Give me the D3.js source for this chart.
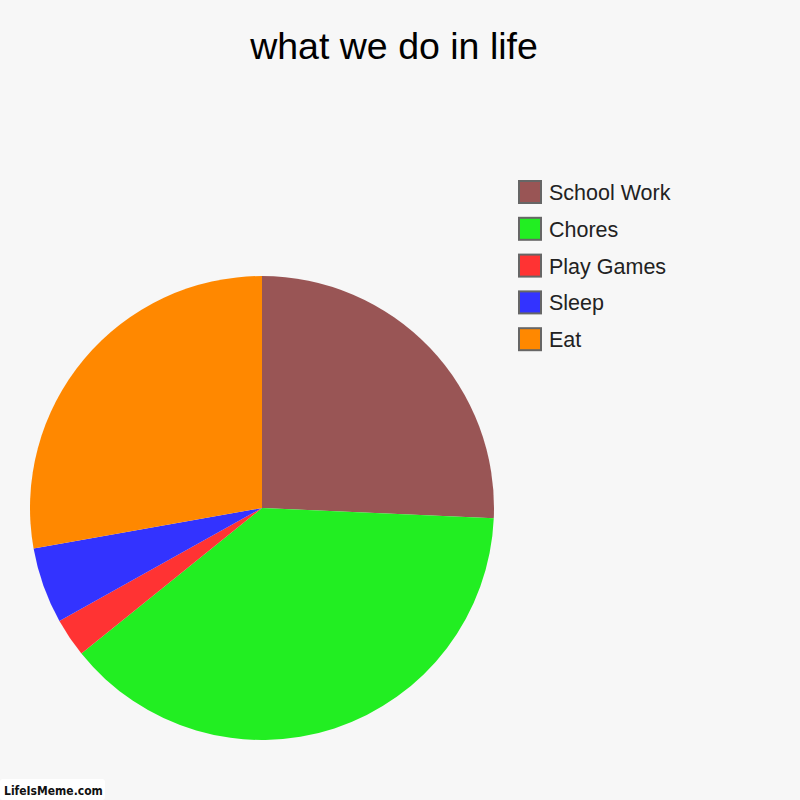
<!DOCTYPE html>
<html>
<head>
<meta charset="utf-8">
<script src="https://cdn.jsdelivr.net/npm/d3@7"></script>
<style>
  html, body { margin: 0; padding: 0; background: #f7f7f7; }
  svg { display: block; font-family: "Liberation Sans", Arial, sans-serif; }
</style>
</head>
<body>
<svg id="chart" width="800" height="800"></svg>
<script>
// ─── Data ────────────────────────────────────────────────
const categories = ['School Work', 'Chores', 'Play Games', 'Sleep', 'Eat'];
const values     = [25.7, 38.5, 2.7, 5.3, 27.8];
const colors     = ['#995555', '#22ee22', '#ff3333', '#3333ff', '#ff8800'];
const title      = 'what we do in life';

const svg = d3.select('#chart');
svg.append('rect').attr('width', 800).attr('height', 800).attr('fill', '#f7f7f7');

// Title
svg.append('text')
  .attr('x', 394).attr('y', 59)
  .attr('text-anchor', 'middle')
  .attr('font-size', '37.5px')
  .attr('fill', '#000')
  .text(title);

// ── Pie ──────────────────────────────────────
const cx = 262, cy = 508, r = 232;
const color = d3.scaleOrdinal().domain(categories).range(colors);
const pie = d3.pie().sort(null).value(d => d.value);
const arc = d3.arc().innerRadius(0).outerRadius(r);
const data = categories.map((c, i) => ({ name: c, value: values[i] }));

svg.append('g').attr('transform', `translate(${cx},${cy})`)
  .selectAll('path').data(pie(data)).join('path')
  .attr('d', arc)
  .attr('fill', d => color(d.data.name));

// Legend
const legendY = d3.scaleBand().domain(categories).range([180, 364]).paddingInner(0);
const legend = svg.append('g');
const items = legend.selectAll('g').data(categories).join('g')
  .attr('transform', d => `translate(519,${legendY(d) + 1})`);
items.append('rect')
  .attr('width', 22).attr('height', 22)
  .attr('fill', d => color(d))
  .attr('stroke', '#666').attr('stroke-width', 2);
items.append('text')
  .attr('x', 30).attr('y', 19)
  .attr('font-size', '21.5px')
  .attr('fill', '#222')
  .text(d => d);

// Watermark
svg.append('rect').attr('x', 0).attr('y', 779).attr('width', 105).attr('height', 21)
  .attr('rx', 3).attr('fill', '#fff');
svg.append('text')
  .attr('x', 4).attr('y', 795)
  .attr('font-family', '"DejaVu Sans Condensed", "DejaVu Sans", sans-serif')
  .attr('font-weight', 'bold')
  .attr('font-size', '12px')
  .attr('fill', '#111')
  .text('LifeIsMeme.com');
</script>
</body>
</html>
